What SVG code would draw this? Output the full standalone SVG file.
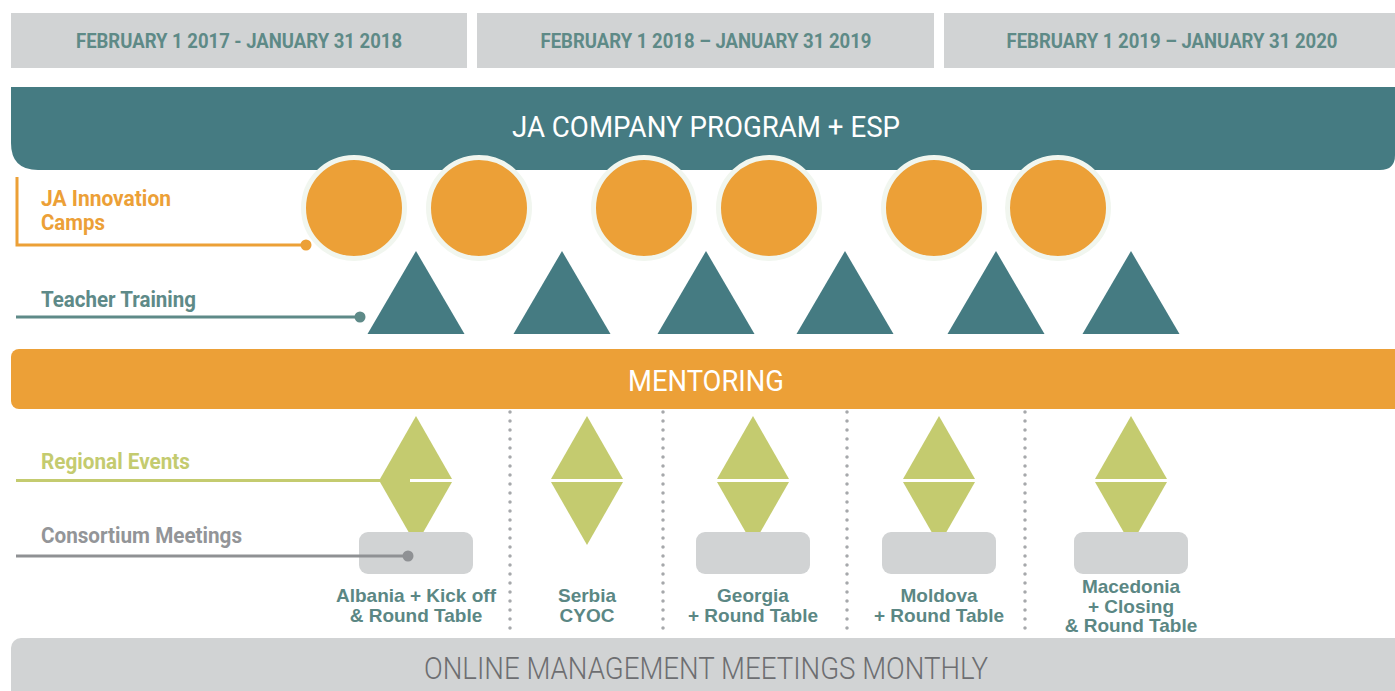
<svg xmlns="http://www.w3.org/2000/svg" width="1395" height="691" viewBox="0 0 1395 691">
<defs>
<style>
.hdr{fill:#d1d3d4}
.hdrt{font-family:Roboto,"Liberation Sans",sans-serif;font-weight:700;font-size:21px;fill:#5e8a87;text-anchor:middle}
.band{font-family:Roboto,"Liberation Sans",sans-serif;font-weight:400;fill:#ffffff;text-anchor:middle}
.lbl{font-family:Roboto,"Liberation Sans",sans-serif;font-weight:700;font-size:22px}
.cap{font-family:"Liberation Sans",Arial,sans-serif;font-weight:700;font-size:19px;fill:#5b8784;text-anchor:middle}
.ring{fill:#eca037;stroke:#f1f6ef;stroke-width:5}
.tri{fill:#457b82}
.dia{fill:#c4cb6f}
.cbox{fill:#d1d3d4}
.dots{stroke:#a6a8ab;stroke-width:3.5;stroke-linecap:round;stroke-dasharray:0 9;fill:none}
</style>
</defs>
<rect width="1395" height="691" fill="#ffffff"/>

<g id="header-2017">
<rect class="hdr" x="11" y="13" width="456" height="55"/>
<text class="hdrt" x="239" y="48" textLength="326" lengthAdjust="spacingAndGlyphs">FEBRUARY 1 2017 - JANUARY 31 2018</text>
</g>
<g id="header-2018">
<rect class="hdr" x="477" y="13" width="457" height="55"/>
<text class="hdrt" x="706" y="48" textLength="331" lengthAdjust="spacingAndGlyphs">FEBRUARY 1 2018 – JANUARY 31 2019</text>
</g>
<g id="header-2019">
<rect class="hdr" x="944" y="13" width="451" height="55"/>
<text class="hdrt" x="1172" y="48" textLength="331" lengthAdjust="spacingAndGlyphs">FEBRUARY 1 2019 – JANUARY 31 2020</text>
</g>

<g id="ja-company-program">
<path d="M11,87 H1395 V155 Q1395,170 1380,170 H38 Q11,170 11,143 Z" fill="#457b82"/>
<text class="band" x="706" y="137" font-size="30" textLength="388" lengthAdjust="spacingAndGlyphs">JA COMPANY PROGRAM + ESP</text>
</g>

<g id="innovation-camps">
<circle class="ring" cx="354" cy="208" r="50.5"/>
<circle class="ring" cx="479" cy="208" r="50.5"/>
<circle class="ring" cx="644" cy="208" r="50.5"/>
<circle class="ring" cx="769" cy="208" r="50.5"/>
<circle class="ring" cx="934" cy="208" r="50.5"/>
<circle class="ring" cx="1058" cy="208" r="50.5"/>
</g>

<g id="teacher-training">
<polygon class="tri" points="416,251 464.5,334 367.5,334"/>
<polygon class="tri" points="562,251 610.5,334 513.5,334"/>
<polygon class="tri" points="706,251 754.5,334 657.5,334"/>
<polygon class="tri" points="845,251 893.5,334 796.5,334"/>
<polygon class="tri" points="996,251 1044.5,334 947.5,334"/>
<polygon class="tri" points="1131,251 1179.5,334 1082.5,334"/>
</g>

<g id="mentoring">
<rect x="11" y="349" width="1394" height="60" rx="8" fill="#eca037"/>
<text class="band" x="706" y="391" font-size="30" textLength="156" lengthAdjust="spacingAndGlyphs">MENTORING</text>
</g>

<g id="labels">
<text class="lbl" fill="#eca037" x="41" y="206" textLength="130" lengthAdjust="spacingAndGlyphs">JA Innovation</text>
<text class="lbl" fill="#eca037" x="41" y="230" textLength="64" lengthAdjust="spacingAndGlyphs">Camps</text>
<text class="lbl" fill="#5e8a88" x="41" y="307" textLength="155" lengthAdjust="spacingAndGlyphs">Teacher Training</text>
<text class="lbl" fill="#c4cb6f" x="41" y="469" textLength="149" lengthAdjust="spacingAndGlyphs">Regional Events</text>
<text class="lbl" fill="#939598" x="41" y="543" textLength="201" lengthAdjust="spacingAndGlyphs">Consortium Meetings</text>
</g>

<g id="event-albania">
<polygon class="dia" points="416,416 452,479 380,479"/>
<polygon class="dia" points="380,482 452,482 416,545"/>
<rect class="cbox" x="359" y="532" width="114" height="42" rx="9"/>
<text class="cap" x="416" y="602">Albania + Kick off</text>
<text class="cap" x="416" y="622">&amp; Round Table</text>
</g>

<g id="event-serbia">
<polygon class="dia" points="587,416 623,479 551,479"/>
<polygon class="dia" points="551,482 623,482 587,545"/>
<text class="cap" x="587" y="602">Serbia</text>
<text class="cap" x="587" y="622">CYOC</text>
</g>

<g id="event-georgia">
<polygon class="dia" points="753,416 789,479 717,479"/>
<polygon class="dia" points="717,482 789,482 753,545"/>
<rect class="cbox" x="696" y="532" width="114" height="42" rx="9"/>
<text class="cap" x="753" y="602">Georgia</text>
<text class="cap" x="753" y="622">+ Round Table</text>
</g>

<g id="event-moldova">
<polygon class="dia" points="939,416 975,479 903,479"/>
<polygon class="dia" points="903,482 975,482 939,545"/>
<rect class="cbox" x="882" y="532" width="114" height="42" rx="9"/>
<text class="cap" x="939" y="602">Moldova</text>
<text class="cap" x="939" y="622">+ Round Table</text>
</g>

<g id="event-macedonia">
<polygon class="dia" points="1131,416 1167,479 1095,479"/>
<polygon class="dia" points="1095,482 1167,482 1131,545"/>
<rect class="cbox" x="1074" y="532" width="114" height="42" rx="9"/>
<text class="cap" x="1131" y="593">Macedonia</text>
<text class="cap" x="1131" y="613">+ Closing</text>
<text class="cap" x="1131" y="632">&amp; Round Table</text>
</g>

<g id="online-management">
<rect x="11" y="638" width="1394" height="70" rx="10" fill="#d1d3d4"/>
<text x="706" y="679" font-family="Roboto,'Liberation Sans',sans-serif" font-weight="300" font-size="32" fill="#6d6e71" text-anchor="middle" textLength="564" lengthAdjust="spacingAndGlyphs">ONLINE MANAGEMENT MEETINGS MONTHLY</text>
</g>

<g id="connectors">
<polyline points="17,177 17,245 306,245" fill="none" stroke="#eca037" stroke-width="3"/>
<circle cx="306" cy="245" r="5.5" fill="#eca037"/>
<line x1="16" y1="317" x2="360" y2="317" stroke="#5e8a88" stroke-width="3"/>
<circle cx="360" cy="317" r="5.5" fill="#5e8a88"/>
<line x1="16" y1="480.5" x2="410" y2="480.5" stroke="#c4cb6f" stroke-width="3"/>
<line x1="16" y1="556" x2="408" y2="556" stroke="#8f9194" stroke-width="3"/>
<circle cx="408" cy="556" r="5.5" fill="#8f9194"/>
<line x1="510" y1="412" x2="510" y2="630" class="dots"/>
<line x1="663" y1="412" x2="663" y2="630" class="dots"/>
<line x1="847" y1="412" x2="847" y2="630" class="dots"/>
<line x1="1025" y1="412" x2="1025" y2="630" class="dots"/>
</g>
</svg>
